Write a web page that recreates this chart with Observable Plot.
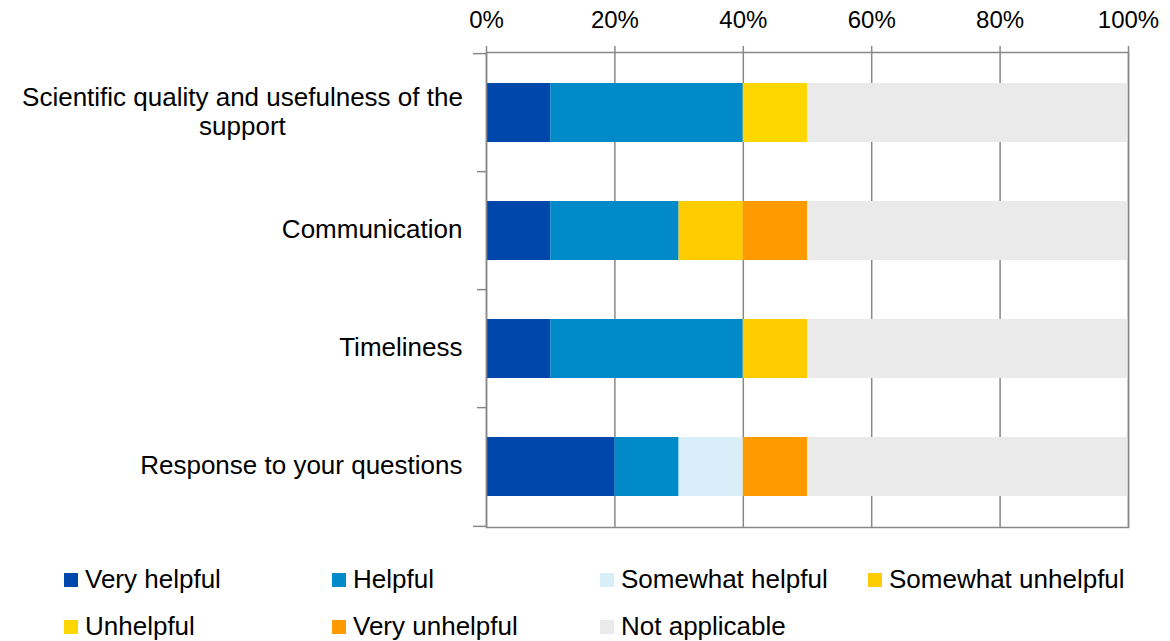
<!DOCTYPE html>
<html>
<head>
<meta charset="utf-8">
<script src="https://cdn.jsdelivr.net/npm/d3@7"></script>
<script src="https://cdn.jsdelivr.net/npm/@observablehq/plot@0.6"></script>
<style>
  html, body { margin: 0; padding: 0; background: #fff; }
  body { width: 1170px; height: 641px; overflow: hidden; font-family: "Liberation Sans", Arial, sans-serif; }
  #legend { position: relative; display: grid; grid-template-columns: repeat(4, 268px); grid-auto-rows: 47px; padding-left: 64px; padding-top: 11px; }
  .item { display: flex; align-items: center; font-size: 26px; color: #000; white-space: nowrap; }
  .sw { width: 14px; height: 14px; margin-right: 7px; flex: none; }
</style>
</head>
<body>
<div id="chart"></div>
<div id="legend"></div>
<script>
const categories = [
  "Scientific quality and usefulness of the support",
  "Communication",
  "Timeliness",
  "Response to your questions"
];
const categoryLabels = [
  "Scientific quality and usefulness of the\nsupport",
  "Communication",
  "Timeliness",
  "Response to your questions"
];
const responses = ["Very helpful", "Helpful", "Somewhat helpful", "Somewhat unhelpful", "Unhelpful", "Very unhelpful", "Not applicable"];
const colors = ["#0047AB", "#008AC9", "#D8EEF9", "#FFCC00", "#FFD700", "#FF9A00", "#EAEAEA"];

// percent per response (order as in responses)
const scientificQuality = [10, 30, 0, 0, 10, 0, 50];
const communication     = [10, 20, 0, 10, 0, 10, 50];
const timeliness        = [10, 30, 0, 10, 0, 0, 50];
const responseQuestions = [20, 10, 10, 0, 0, 10, 50];

const xTicks = [0, 20, 40, 60, 80, 100];

const series = [scientificQuality, communication, timeliness, responseQuestions];
const data = [];
categories.forEach((c, i) => {
  responses.forEach((r, j) => {
    data.push({category: c, response: r, value: series[i][j]});
  });
});

const labelOf = new Map(categories.map((c, i) => [c, categoryLabels[i]]));

const W = 1170, H = 545;
const mT = 52, mB = 18, mL = 486, mR = 42;
const nCat = categories.length;
const pInner = 0.5, pOuter = 0.25;
const step = (H - mT - mB) / (nCat - pInner + 2 * pOuter);
const half = step / 2;
const gray = "#888888";

const chart = Plot.plot({
  width: W,
  height: H,
  marginTop: mT,
  marginBottom: mB,
  marginLeft: mL,
  marginRight: mR,
  style: {fontFamily: "'Liberation Sans', Arial, sans-serif", fontSize: "24px", color: "#000", background: "#fff"},
  x: {domain: [0, 100], label: null},
  y: {domain: categories, label: null, paddingInner: pInner, paddingOuter: pOuter},
  color: {domain: responses, range: colors},
  marks: [
    Plot.gridX(xTicks, {stroke: gray, strokeOpacity: 1, strokeWidth: 1.5}),
    Plot.barX(data.filter(d => d.value > 0), Plot.stackX({x: "value", y: "category", fill: "response", order: responses})),
    Plot.frame({stroke: gray, strokeWidth: 1.5}),
    Plot.axisX({anchor: "top", ticks: xTicks, tickSize: 7, tickPadding: 18, tickFormat: d => d + "%", stroke: gray, strokeWidth: 1.5, fontSize: 24, fill: "#000", strokeOpacity: 1}),
    Plot.axisY({ticks: categories, tickSize: 0, tickPadding: 24, tickFormat: d => labelOf.get(d), fontSize: 26, fill: "#000", lineHeight: 1.12, dy: -2}),
    Plot.axisY({ticks: categories.slice(1), tickSize: 9, text: null, dy: -half, stroke: gray, strokeWidth: 1.5, strokeOpacity: 1}),
    Plot.axisY({ticks: categories.slice(0, 1), tickSize: 13, text: null, dy: -half, stroke: gray, strokeWidth: 1.5, strokeOpacity: 1}),
    Plot.axisY({ticks: categories.slice(-1), tickSize: 13, text: null, dy: half, stroke: gray, strokeWidth: 1.5, strokeOpacity: 1})
  ]
});
document.getElementById("chart").append(chart);

// center multi-line y labels within their own block (as in the original)
chart.querySelectorAll("text").forEach(t => {
  const spans = t.querySelectorAll("tspan");
  if (spans.length > 1) {
    const bb = t.getBBox();
    const cx = bb.x + bb.width / 2;
    t.setAttribute("text-anchor", "middle");
    spans.forEach(s => s.setAttribute("x", cx));
  }
});

const legend = document.getElementById("legend");
responses.forEach((r, i) => {
  const item = document.createElement("div");
  item.className = "item";
  const sw = document.createElement("span");
  sw.className = "sw";
  sw.style.background = colors[i];
  item.append(sw, document.createTextNode(r));
  legend.append(item);
});
</script>
</body>
</html>
